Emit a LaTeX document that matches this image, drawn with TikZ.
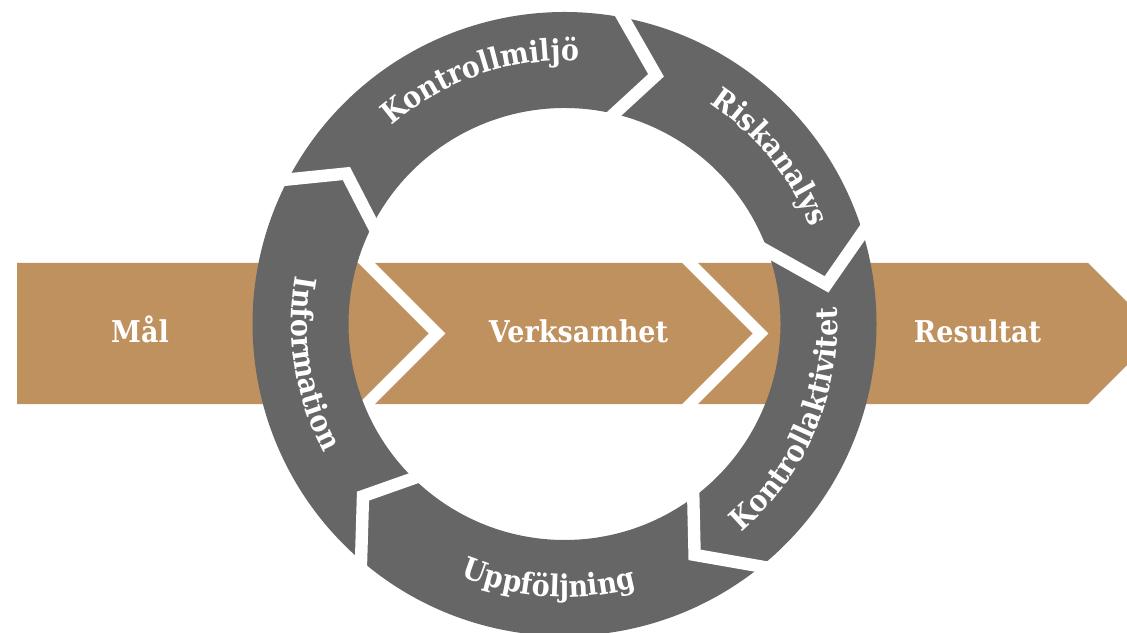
\documentclass[tikz,border=0pt]{standalone}
\usepackage{fontspec}
\setmainfont{DejaVu Serif}[FakeStretch=0.9]
\usetikzlibrary{calc,decorations.text}
\definecolor{ringgrey}{RGB}{102,102,102}
\definecolor{bandtan}{RGB}{191,145,94}
\newcommand{\labelfont}{\bfseries\fontsize{15}{17}\selectfont}

\begin{document}
\begin{tikzpicture}[
		x=0.5pt, y=0.5pt,
		band/.style={fill=bandtan},
		segment/.style={fill=ringgrey},
		gap/.style={draw=white, line width=6.2pt, line join=miter},
		bandlabel/.style={text=white, font=\labelfont, anchor=base, inner sep=0pt},
		ringlabel/.style={decorate, decoration={text along path, text align=center, text color=white, text={|\labelfont|#1}}}
	]
	\useasboundingbox (0,0) rectangle (1127,632);
	\clip (0,0) rectangle (1127,632);
	% band behind the ring
	\fill[band] (17,228) -- (17,369) -- (358,369) -- (428.5,298.5) -- (358,228) -- cycle;
	\fill[band] (375,228) -- (445.5,298.5) -- (375,369) -- (682,369) -- (752.5,298.5) -- (682,228) -- cycle;
	\fill[band] (698,228) -- (768.5,298.5) -- (698,369) -- (1088,369) -- (1158.5,298.5) -- (1088,228) -- cycle;
	% ring of five arrows
	\begin{scope}[shift={(564.5,308)}]
		\foreach \ao/\at/\ai/\bo/\bt/\bi in {152.4/145.4/152.6/79.2/69.8/76.7, 79.2/69.8/76.7/17.1/8.6/19.6, 17.1/8.6/19.6/-51/-60.6/-53.4, -51/-60.6/-53.4/-130.7/-139.5/-134.4, 229.3/220.5/225.6/152.4/145.4/152.6}
			\fill[segment] (\ao:312) arc[start angle=\ao, end angle=\bo, radius=312] -- (\bt:265) -- (\bi:216) arc[start angle=\bi, end angle=\ai, radius=216] -- (\at:265) -- cycle;
		\foreach \o/\t/\i in {79.2/69.8/76.7, 17.1/8.6/19.6, -51/-60.6/-53.4, -130.7/-139.5/-134.4, 152.4/145.4/152.6}
			\draw[gap] ($(\t:265)!1.3!(\o:312)$) -- (\t:265) -- ($(\t:265)!1.3!(\i:216)$);
		\path[ringlabel={Kontrollmiljö}] (150:263) arc[start angle=150, end angle=68, radius=263];
		\path[ringlabel={Riskanalys}] (75:264) arc[start angle=75, end angle=3, radius=264];
		\path[ringlabel={Kontrollaktivitet}] (-70:273) arc[start angle=-70, end angle=24, radius=273];
		\path[ringlabel={Uppföljning}] (-135:273) arc[start angle=-135, end angle=-52, radius=273];
		\path[ringlabel={Information}] (145:273) arc[start angle=145, end angle=233, radius=273];
	\end{scope}
	\node[bandlabel] (mal) at (140,289.5) {Mål};
	\node[bandlabel] (verksamhet) at (578.5,289.5) {Verksamhet};
	\node[bandlabel] (resultat) at (977.5,289.5) {Resultat};
\end{tikzpicture}
\end{document}
